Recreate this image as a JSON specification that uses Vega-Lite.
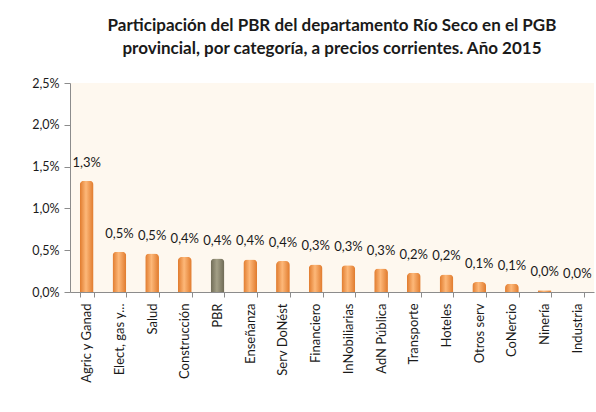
{
  "$schema": "https://vega.github.io/schema/vega-lite/v6.json",
  "width": 524,
  "height": 209,
  "padding": {"left": 22, "top": 17, "right": 4, "bottom": 4},
  "background": "#ffffff",
  "title": {
    "text": ["Participación del PBR del departamento Río Seco en el PGB", "provincial, por categoría, a precios corrientes. Año 2015"],
    "font": "Lato",
    "fontSize": 17,
    "fontWeight": "bold",
    "color": "#1a1a1a",
    "lineHeight": 23,
    "anchor": "middle",
    "offset": 19
  },
  "config": {
    "locale": {"number": {"decimal": ",", "thousands": ".", "grouping": [3], "currency": ["", " €"]}},
    "view": {"fill": "#FEF8EF", "stroke": null},
    "font": "Lato"
  },
  "data": {
    "values": [
      {"categoria": "Agric y Ganad", "valor": 0.0133},
      {"categoria": "Elect, gas y...", "valor": 0.0048},
      {"categoria": "Salud", "valor": 0.0046},
      {"categoria": "Construcción", "valor": 0.0042},
      {"categoria": "PBR", "valor": 0.0040},
      {"categoria": "Enseñanza", "valor": 0.0039},
      {"categoria": "Serv DoNést", "valor": 0.0037},
      {"categoria": "Financiero", "valor": 0.0033},
      {"categoria": "InNobiliarias", "valor": 0.0032},
      {"categoria": "AdN Pública", "valor": 0.0028},
      {"categoria": "Transporte", "valor": 0.0023},
      {"categoria": "Hoteles", "valor": 0.0021},
      {"categoria": "Otros serv", "valor": 0.0012},
      {"categoria": "CoNercio", "valor": 0.0010},
      {"categoria": "Ninería", "valor": 0.0002},
      {"categoria": "Industria", "valor": 0.0000}
    ]
  },
  "encoding": {
    "x": {
      "field": "categoria",
      "type": "nominal",
      "sort": null,
      "scale": {"paddingInner": 0.58, "paddingOuter": 0.3},
      "axis": {
        "title": null,
        "labelAngle": -90,
        "labelFont": "Lato",
        "labelFontSize": 13,
        "labelColor": "#1a1a1a",
        "labelPadding": 6,
        "tickBand": "extent",
        "tickSize": 5,
        "tickColor": "#8c8c8c",
        "domainColor": "#8c8c8c",
        "labelLimit": 200
      }
    },
    "y": {
      "field": "valor",
      "type": "quantitative",
      "scale": {"domain": [0, 0.025], "nice": false},
      "axis": {
        "title": null,
        "values": [0, 0.005, 0.01, 0.015, 0.02, 0.025],
        "format": ".1%",
        "grid": false,
        "labelFont": "Lato",
        "labelFontSize": 12.5,
        "labelColor": "#1a1a1a",
        "tickSize": 6,
        "tickColor": "#8c8c8c",
        "domainColor": "#8c8c8c",
        "labelPadding": 5,
        "minExtent": 48,
        "maxExtent": 48
      }
    }
  },
  "layer": [
    {
      "mark": {"type": "bar", "cornerRadiusTopLeft": 4, "cornerRadiusTopRight": 4},
      "encoding": {
        "color": {
          "condition": {
            "test": "datum.categoria === 'PBR'",
            "value": {"gradient": "linear", "x1": 0, "y1": 0, "x2": 1, "y2": 0, "stops": [{"offset": 0, "color": "#6E6A55"}, {"offset": 0.45, "color": "#A39F86"}, {"offset": 1, "color": "#6E6A55"}]}
          },
          "value": {"gradient": "linear", "x1": 0, "y1": 0, "x2": 1, "y2": 0, "stops": [{"offset": 0, "color": "#E07A2C"}, {"offset": 0.45, "color": "#FDB879"}, {"offset": 1, "color": "#E07A2C"}]}
        }
      }
    },
    {
      "mark": {"type": "text", "baseline": "bottom", "dy": -11, "fontSize": 13, "font": "Lato", "color": "#1a1a1a"},
      "encoding": {
        "text": {"field": "valor", "type": "quantitative", "format": ".1%"}
      }
    }
  ]
}
